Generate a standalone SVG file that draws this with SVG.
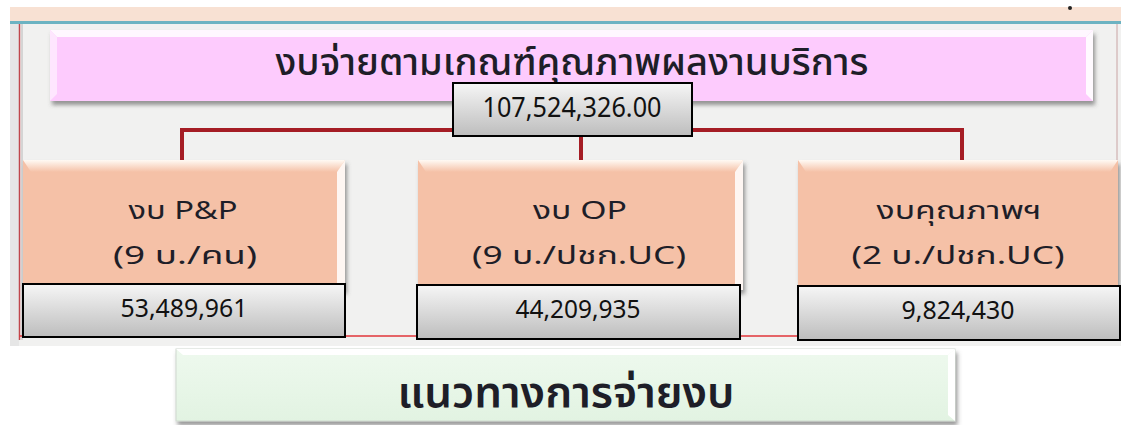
<svg xmlns="http://www.w3.org/2000/svg" width="1121" height="425" viewBox="0 0 1121 425">
<style>
.th{font-family:"Noto Sans Thai","Noto Sans","DejaVu Sans",sans-serif;fill:#1e1e28;text-anchor:middle}
.num{font-family:"Noto Sans","Liberation Sans",sans-serif;fill:#111;text-anchor:middle}
.conn{stroke:#a51d25;stroke-width:4;fill:none}
.vbox{fill:url(#gray);stroke:#000;stroke-width:2}
.peach{fill:#f5c1a7}
</style>
<defs>
<linearGradient id="gray" x1="0" y1="0" x2="0" y2="1">
<stop offset="0" stop-color="#f6f6f6"/><stop offset="1" stop-color="#bdbdbd"/>
</linearGradient>
<linearGradient id="green" x1="0" y1="0" x2="0" y2="1">
<stop offset="0" stop-color="#eef9ee"/><stop offset="1" stop-color="#e2f3e2"/>
</linearGradient>
<linearGradient id="bevel" x1="0" y1="0" x2="0" y2="1">
<stop offset="0" stop-color="#fffaf4"/><stop offset="1" stop-color="#f5c1a7"/>
</linearGradient>
<filter id="sh" x="-5%" y="-10%" width="110%" height="130%">
<feDropShadow dx="2" dy="4" stdDeviation="2" flood-color="#555" flood-opacity="0.6"/>
</filter>
</defs>
<rect x="0" y="0" width="1121" height="425" fill="#fff"/>
<rect x="10" y="7" width="1111" height="14" fill="#f8e1d3"/>
<rect x="10" y="21" width="1111" height="3" fill="#6cb3c2"/>
<rect x="10" y="24" width="1111" height="322" fill="#f1f1f0"/>
<rect x="10" y="24" width="9" height="322" fill="#e6e6e6"/>
<line x1="19.5" y1="24" x2="19.5" y2="340" stroke="#c0474c" stroke-width="1.5"/>
<line x1="22" y1="24" x2="22" y2="340" stroke="#b8b8b8" stroke-width="1"/>
<line x1="1117" y1="24" x2="1117" y2="340" stroke="#c9a4a4" stroke-width="1"/>
<circle cx="1070" cy="8" r="2" fill="#222"/>

<g id="connectors">
<polyline class="conn" points="182,160 182,130 962,130 962,160"/>
<line class="conn" x1="581" y1="130" x2="581" y2="160"/>
<line x1="345" y1="336" x2="417" y2="336" stroke="#e0343a" stroke-width="1.5"/>
<line x1="740" y1="336" x2="798" y2="336" stroke="#e0343a" stroke-width="1.5"/>
<line x1="19" y1="336" x2="23" y2="336" stroke="#e0343a" stroke-width="1.5"/>
</g>

<g id="title">
<rect x="50" y="30" width="1043" height="71" fill="#fdcbfd" filter="url(#sh)"/>
<polygon points="50,30 1093,30 1086,37 57,37" fill="#fff" opacity="0.85"/>
<polygon points="1093,30 1093,101 1086,94 1086,37" fill="#fff" opacity="0.9"/>
<polygon points="50,30 57,37 57,94 50,101" fill="#fee6fe"/>
<text class="th" x="572" y="75" font-size="37" font-weight="500" textLength="593" lengthAdjust="spacingAndGlyphs">งบจ่ายตามเกณฑ์คุณภาพผลงานบริการ</text>
</g>

<g id="total">
<rect class="vbox" x="453" y="83" width="239" height="53"/>
<text class="num" x="572" y="117" font-size="28" textLength="179" lengthAdjust="spacingAndGlyphs">107,524,326.00</text>
</g>

<g id="node-pp">
<rect class="peach" x="23" y="160" width="322" height="130" filter="url(#sh)"/>
<polygon points="23,160 345,160 337,172 31,172" fill="url(#bevel)"/>
<polygon points="345,160 345,290 337,290 337,172" fill="#fff" opacity="0.85"/>
<text class="th" x="183" y="219" font-size="25" textLength="109" lengthAdjust="spacingAndGlyphs">งบ P&amp;P</text>
<text class="th" x="185" y="264" font-size="25" textLength="144" lengthAdjust="spacingAndGlyphs">(9 บ./คน)</text>
<rect class="vbox" x="23" y="284" width="322" height="53"/>
<text class="num" x="184" y="317" font-size="26" textLength="127" lengthAdjust="spacingAndGlyphs">53,489,961</text>
</g>

<g id="node-op">
<rect class="peach" x="418" y="160" width="325" height="130" filter="url(#sh)"/>
<polygon points="418,160 743,160 735,172 426,172" fill="url(#bevel)"/>
<polygon points="743,160 743,290 735,290 735,172" fill="#fff" opacity="0.85"/>
<text class="th" x="580" y="219" font-size="25" textLength="94" lengthAdjust="spacingAndGlyphs">งบ OP</text>
<text class="th" x="579" y="264" font-size="25" textLength="214" lengthAdjust="spacingAndGlyphs">(9 บ./ปชก.UC)</text>
<rect class="vbox" x="417" y="285" width="323" height="54"/>
<text class="num" x="578" y="318" font-size="26" textLength="125" lengthAdjust="spacingAndGlyphs">44,209,935</text>
</g>

<g id="node-quality">
<rect class="peach" x="798" y="160" width="320" height="130" filter="url(#sh)"/>
<polygon points="798,160 1118,160 1110,172 806,172" fill="url(#bevel)"/>
<text class="th" x="959" y="219" font-size="25" textLength="165" lengthAdjust="spacingAndGlyphs">งบคุณภาพฯ</text>
<text class="th" x="958" y="264" font-size="25" textLength="213" lengthAdjust="spacingAndGlyphs">(2 บ./ปชก.UC)</text>
<rect class="vbox" x="798" y="286" width="322" height="54"/>
<text class="num" x="958" y="319" font-size="26" textLength="113" lengthAdjust="spacingAndGlyphs">9,824,430</text>
</g>

<g id="footer">
<rect x="176" y="349" width="779" height="72" fill="url(#green)" stroke="#cfd8cf" stroke-width="1" filter="url(#sh)"/>
<polygon points="176,349 955,349 948,355 183,355" fill="#fff"/>
<polygon points="955,349 955,421 948,415 948,355" fill="#fff"/>
<text class="th" x="566" y="407" font-size="43" font-weight="600" fill="#111" textLength="337" lengthAdjust="spacingAndGlyphs">แนวทางการจ่ายงบ</text>
</g>
</svg>
